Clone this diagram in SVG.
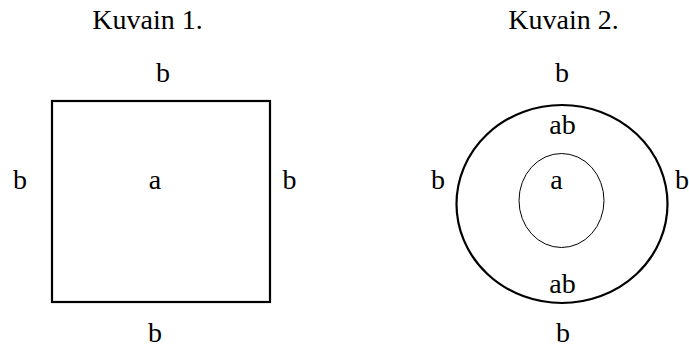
<svg xmlns="http://www.w3.org/2000/svg" width="689" height="349" viewBox="0 0 689 349">
<style>
text{font-family:'Liberation Serif','DejaVu Serif',serif;font-size:28px;fill:#000;text-anchor:middle}
.thick{fill:none;stroke:#000;stroke-width:2.2}
.thin{fill:none;stroke:#000;stroke-width:1}
</style>
<rect width="689" height="349" fill="#fff"/>
<g id="figure1" font-family="Liberation Serif">
<text x="147.5" y="29">Kuvain 1.</text>
<rect class="thick" x="52" y="101" width="218" height="201"/>
<text x="163" y="82">b</text>
<text x="20" y="189">b</text>
<text x="155" y="189">a</text>
<text x="289.5" y="189">b</text>
<text x="155" y="342">b</text>
</g>
<g id="figure2" font-family="Liberation Serif">
<text x="563.5" y="29">Kuvain 2.</text>
<ellipse class="thick" cx="562" cy="204" rx="105.5" ry="99"/>
<ellipse class="thin" cx="561.5" cy="200.5" rx="42.5" ry="47"/>
<text x="562" y="82">b</text>
<text x="562.5" y="134">ab</text>
<text x="556.5" y="189">a</text>
<text x="438" y="189">b</text>
<text x="682" y="189">b</text>
<text x="562.5" y="293">ab</text>
<text x="563" y="342">b</text>
</g>
</svg>
